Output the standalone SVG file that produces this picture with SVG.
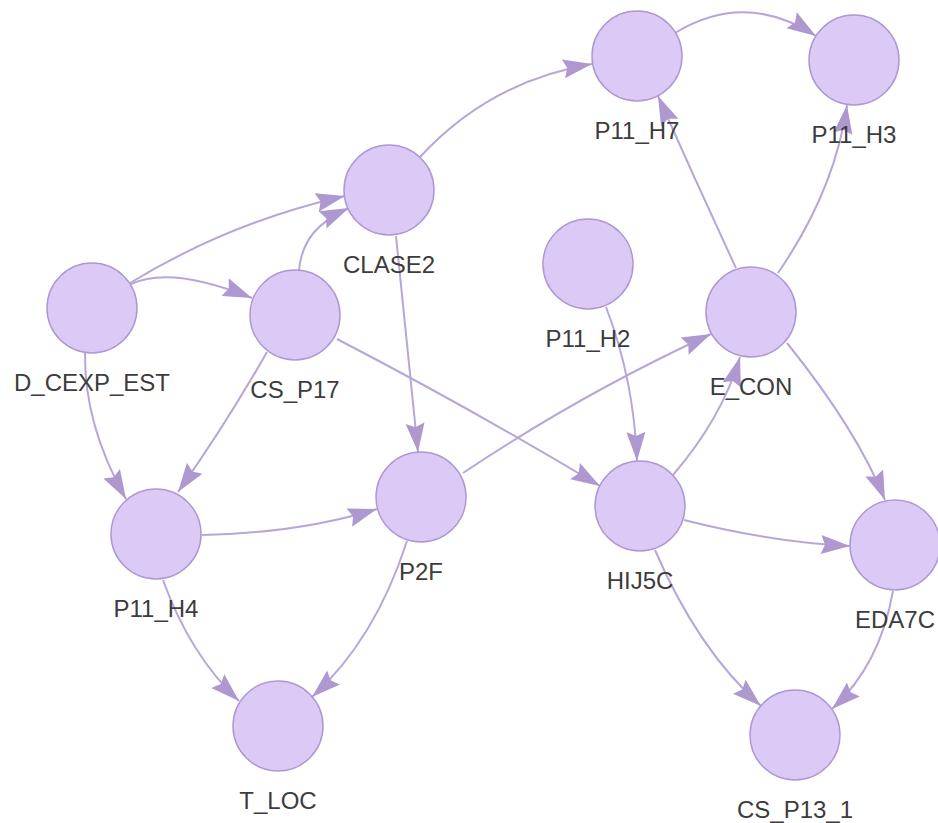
<svg xmlns="http://www.w3.org/2000/svg" width="938" height="823" viewBox="0 0 938 823">
  <defs>
    <marker id="arrow" markerUnits="userSpaceOnUse" viewBox="-30 -11 31 22" refX="0" refY="0" markerWidth="31" markerHeight="22" orient="auto">
      <path d="M0,0 L-29,-9.5 L-25,0 L-29,9.5 Z" fill="#ad98cf"/>
    </marker>
    <style>
      .edge { fill: none; stroke: #b8a6d8; stroke-width: 2; marker-end: url(#arrow); }
      .node circle { fill: #dccaf6; stroke: #ae98d2; stroke-width: 1.5; }
      .node text { font-family: "Liberation Sans", Arial, sans-serif; font-size: 24px; fill: #3c3c3c; text-anchor: middle; }
    </style>
  </defs>
  <rect width="938" height="823" fill="#ffffff"/>

  <g id="connectors">
    <path class="edge" d="M675,33 Q745,-10 816,36"/>
    <path class="edge" d="M420,157 Q490,81 592,64"/>
    <path class="edge" d="M130,283 Q230,222 345,196"/>
    <path class="edge" d="M131,284 C165,268 215,283 252,298"/>
    <path class="edge" d="M299,270 C302,240 318,222 349,208"/>
    <path class="edge" d="M85,353 Q84,425 126,499"/>
    <path class="edge" d="M267,352 Q226,424 178,492"/>
    <path class="edge" d="M337,339 Q470,408 600,486"/>
    <path class="edge" d="M396,236 Q407,344 418,452"/>
    <path class="edge" d="M202,535 Q300,533 377,509"/>
    <path class="edge" d="M463,473 Q581,394 711,334"/>
    <path class="edge" d="M606,307 Q634,380 637,461"/>
    <path class="edge" d="M673,475 Q722,418 740,357"/>
    <path class="edge" d="M736,268 Q696,182 658,96"/>
    <path class="edge" d="M778,273 Q835,190 847,105"/>
    <path class="edge" d="M787,343 Q857,430 885,500"/>
    <path class="edge" d="M684,520 Q770,542 850,546"/>
    <path class="edge" d="M655,550 Q698,650 761,706"/>
    <path class="edge" d="M893,591 Q880,665 832,709"/>
    <path class="edge" d="M163,580 Q190,655 239,701"/>
    <path class="edge" d="M407,541 Q375,640 312,697"/>
  </g>

  <g id="P11_H7" class="node"><circle cx="637" cy="56" r="45"/><text x="637" y="139">P11_H7</text></g>
  <g id="P11_H3" class="node"><circle cx="854" cy="60" r="45"/><text x="854" y="143">P11_H3</text></g>
  <g id="CLASE2" class="node"><circle cx="389" cy="190" r="45"/><text x="389" y="273">CLASE2</text></g>
  <g id="P11_H2" class="node"><circle cx="588" cy="264" r="45"/><text x="588" y="347">P11_H2</text></g>
  <g id="E_CON" class="node"><circle cx="751" cy="312" r="45"/><text x="751" y="395">E_CON</text></g>
  <g id="D_CEXP_EST" class="node"><circle cx="92" cy="308" r="45"/><text x="92" y="391">D_CEXP_EST</text></g>
  <g id="CS_P17" class="node"><circle cx="295" cy="315" r="45"/><text x="295" y="398">CS_P17</text></g>
  <g id="P2F" class="node"><circle cx="421" cy="497" r="45"/><text x="421" y="580">P2F</text></g>
  <g id="HIJ5C" class="node"><circle cx="640" cy="506" r="45"/><text x="640" y="589">HIJ5C</text></g>
  <g id="P11_H4" class="node"><circle cx="156" cy="534" r="45"/><text x="156" y="617">P11_H4</text></g>
  <g id="EDA7C" class="node"><circle cx="895" cy="545" r="45"/><text x="895" y="628">EDA7C</text></g>
  <g id="T_LOC" class="node"><circle cx="278" cy="726" r="45"/><text x="278" y="809">T_LOC</text></g>
  <g id="CS_P13_1" class="node"><circle cx="795" cy="735" r="45"/><text x="795" y="818">CS_P13_1</text></g>
</svg>
